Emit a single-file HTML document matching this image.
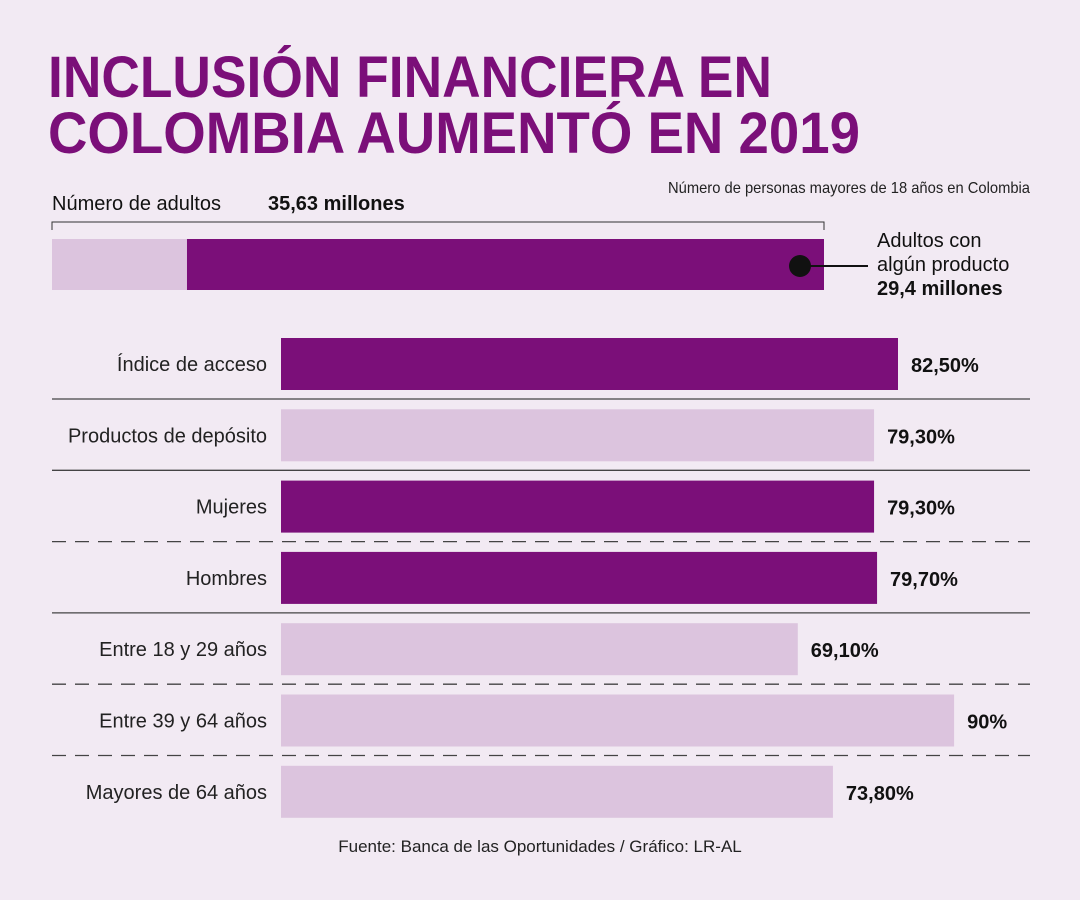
<!DOCTYPE html>
<html><head><meta charset="utf-8"><style>
html,body{margin:0;padding:0;background:#f2eaf3;}
svg{display:block;font-family:"Liberation Sans",sans-serif;}
</style></head><body>
<svg id="chart" width="1080" height="900" viewBox="0 0 1080 900">
<rect width="1080" height="900" fill="#f2eaf3"/>
<text x="48" y="97" font-size="58" font-weight="bold" fill="#7b0f79" textLength="724" lengthAdjust="spacingAndGlyphs">INCLUSIÓN FINANCIERA EN</text>
<text x="48" y="153" font-size="58" font-weight="bold" fill="#7b0f79" textLength="812" lengthAdjust="spacingAndGlyphs">COLOMBIA AUMENTÓ EN 2019</text>
<text x="1030" y="193" font-size="16" fill="#222" text-anchor="end" textLength="362" lengthAdjust="spacingAndGlyphs">Número de personas mayores de 18 años en Colombia</text>
<text x="52" y="210" font-size="20" fill="#111">Número de adultos</text>
<text x="268" y="210" font-size="20" font-weight="bold" fill="#111">35,63 millones</text>
<path d="M52,230 V222 H824 V230" fill="none" stroke="#333" stroke-width="1"/>
<g id="topbar"></g>
<line x1="800" y1="266" x2="868" y2="266" stroke="#111" stroke-width="2"/>
<circle cx="800" cy="266" r="11" fill="#111"/>
<text x="877" y="247" font-size="20" fill="#111">Adultos con</text>
<text x="877" y="271" font-size="20" fill="#111">algún producto</text>
<text x="877" y="295" font-size="20" font-weight="bold" fill="#111">29,4 millones</text>
<g id="bars"></g>
<text x="540" y="852" font-size="17" fill="#222" text-anchor="middle">Fuente: Banca de las Oportunidades / Gráfico: LR-AL</text>
</svg>
<script>
const categories=["Índice de acceso","Productos de depósito","Mujeres","Hombres","Entre 18 y 29 años","Entre 39 y 64 años","Mayores de 64 años"];
const values=[82.5,79.3,79.3,79.7,69.1,90,73.8];
const valueLabels=["82,50%","79,30%","79,30%","79,70%","69,10%","90%","73,80%"];
const highlighted=[true,false,true,true,false,false,false];
const separatorDashed=[false,false,true,false,true,true];
const totalAdults=35.63;
const withProduct=29.4;
const NS="http://www.w3.org/2000/svg";
function mk(t,a){const e=document.createElementNS(NS,t);for(const k in a)e.setAttribute(k,a[k]);return e;}
const x0=281,pxPer=(898-281)/82.5;
const xs=v=>x0+v*pxPer;
const ys=i=>338+i*71.3;
const dark="#7b0f79",light="#dcc4de";
const topGroup=document.getElementById('topbar');
const tx0=52,tx1=824,tw=tx1-tx0;
let r=mk('rect',{x:tx0,y:239,width:tw,height:51,fill:light});


topGroup.appendChild(r);
const dw=tw*withProduct/totalAdults;
r=mk('rect',{x:tx1-dw,y:239,width:dw,height:51,fill:dark});


topGroup.appendChild(r);
const g=document.getElementById('bars');
categories.forEach((c,i)=>{
  const y=ys(i);
  const b=mk('rect',{x:x0,y:y,width:xs(values[i])-x0,height:52,fill:highlighted[i]?dark:light});
  
  
  g.appendChild(b);
  const l=mk('text',{x:267,y:y+33,'font-size':20,fill:'#222','text-anchor':'end'});
  l.textContent=c;
  
  
  g.appendChild(l);
  const v=mk('text',{x:xs(values[i])+13,y:y+34,'font-size':20,'font-weight':'bold',fill:'#111'});
  v.textContent=valueLabels[i];
  
  
  g.appendChild(v);
  if(i<categories.length-1){
    const ly=y+61;
    const ln=mk('line',{x1:52,x2:1030,y1:ly,y2:ly,stroke:'#444','stroke-width':1.3});
    if(separatorDashed[i])ln.setAttribute('stroke-dasharray','14,9');
    
    
    g.appendChild(ln);
  }
});
</script>
</body></html>
